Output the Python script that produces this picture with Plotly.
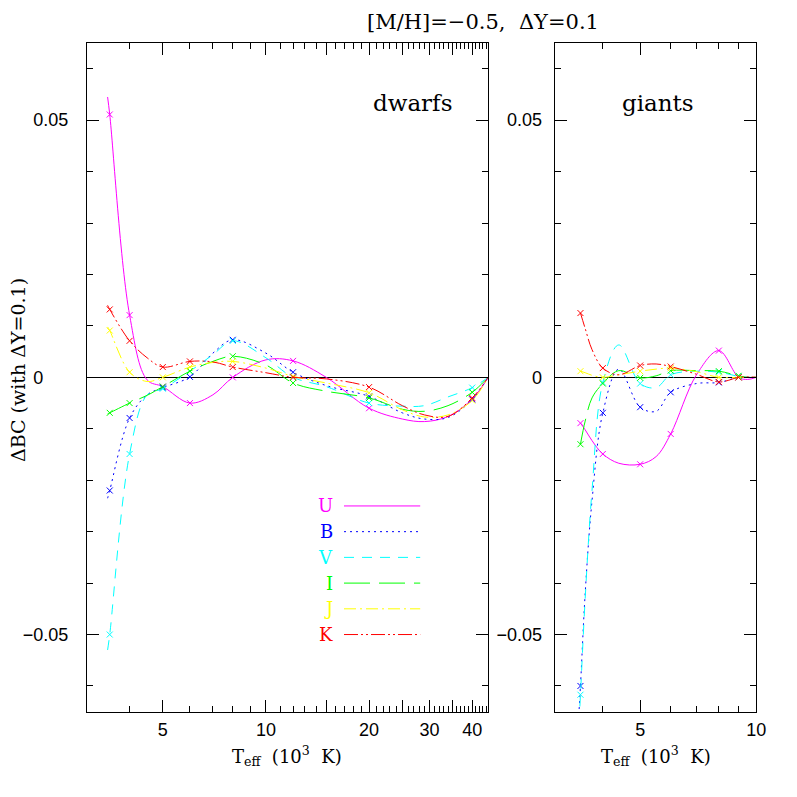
import numpy as np
import plotly.graph_objects as go

bands = ["U", "B", "V", "I", "J", "K"]
band_colors = ["#ff00ff", "#0000ff", "#00ffff", "#00ff00", "#ffff00", "#ff0000"]
band_dash = ["solid", "2px,4px", "10px,8px", "26px,9px", "12px,4px,2px,4px",
             "14px,3px,2px,3px,2px,3px"]

# dwarfs: Teff in 10^3 K
dwarf_teff = [3.45, 3.5, 4, 4.5, 5, 6, 7, 8, 10, 12, 15, 20, 25, 29, 34, 40, 44.5]
dwarf_marked = [3.5, 4, 5, 6, 8, 12, 20, 40]
dwarf_U = [0.0545, 0.0511, 0.0121, -0.0005, -0.0018, -0.0050, -0.0034, 0.0000, 0.0034,
           0.0032, 0.0000, -0.0060, -0.0081, -0.0086, -0.0076, -0.0042, 0.0]
dwarf_B = [-0.0235, -0.0220, -0.0079, -0.0034, -0.0020, 0.0001, 0.0047, 0.0073, 0.0047,
           0.0010, -0.0016, -0.0037, -0.0069, -0.0081, -0.0078, -0.0043, 0.0]
dwarf_V = [-0.0530, -0.0500, -0.0149, -0.0034, -0.0022, 0.0012, 0.0044, 0.0071, 0.0038,
           0.0000, -0.0018, -0.0050, -0.0056, -0.0055, -0.0038, -0.0020, 0.0]
dwarf_I = [-0.0071, -0.0069, -0.0050, -0.0035, -0.0018, 0.0012, 0.0031, 0.0041, 0.0024,
           -0.0011, -0.0027, -0.0040, -0.0062, -0.0066, -0.0055, -0.0029, 0.0]
dwarf_J = [0.0098, 0.0091, 0.0010, -0.0008, 0.0000, 0.0020, 0.0029, 0.0031, 0.0018,
           0.0002, -0.0011, -0.0030, -0.0063, -0.0077, -0.0073, -0.0045, 0.0]
dwarf_K = [0.0140, 0.0132, 0.0071, 0.0038, 0.0020, 0.0031, 0.0030, 0.0020, 0.0009,
           0.0000, -0.0003, -0.0019, -0.0055, -0.0073, -0.0076, -0.0040, 0.0]

# giants
giant_teff = [3.45, 3.5, 3.6, 3.75, 4, 4.4, 5, 5.5, 6, 7, 8, 9, 9.5, 10]
giant_marked = [3.5, 4, 5, 6, 8, 9]
giant_U = [None, -0.0089, -0.0102, -0.0123, -0.0149, -0.0167, -0.0169, -0.0154, -0.0110,
           0.0005, 0.0052, 0.0000, -0.0004, 0.0]
giant_B = [-0.0680, -0.0600, -0.0420, -0.0240, -0.0069, 0.0016, -0.0058, -0.0066, -0.0029,
           -0.0012, -0.0010, 0.0000, 0.0, 0.0]
giant_V = [-0.0710, -0.0617, -0.0430, -0.0220, -0.0010, 0.0063, -0.0012, -0.0020, 0.0005,
           0.0012, 0.0010, 0.0002, 0.0, 0.0]
giant_I = [None, -0.0130, -0.0085, -0.0040, -0.0012, 0.0013, -0.0001, 0.0003, 0.0013,
           0.0013, 0.0012, 0.0003, 0.0, 0.0]
giant_J = [None, 0.0012, 0.0009, 0.0004, 0.0000, 0.0005, 0.0012, 0.0016, 0.0018,
           0.0011, 0.0000, 0.0000, 0.0, 0.0]
giant_K = [None, 0.0125, 0.0095, 0.0054, 0.0018, 0.0005, 0.0023, 0.0026, 0.0021,
           0.0006, -0.0009, 0.0000, 0.0001, 0.0]

dwarf_series = [dwarf_U, dwarf_B, dwarf_V, dwarf_I, dwarf_J, dwarf_K]
giant_series = [giant_U, giant_B, giant_V, giant_I, giant_J, giant_K]

SERIF = "DejaVu Serif"
TICKFONT = dict(family="Liberation Sans", size=18, color="black")

fig = go.Figure()


def add_panel(teff, marked, series, xa, ya):
    for name, vals, col, dash in zip(bands, series, band_colors, band_dash):
        fig.add_trace(go.Scatter(
            x=teff, y=vals, mode="lines", xaxis=xa, yaxis=ya,
            line=dict(color=col, width=1, dash=dash, shape="spline", smoothing=1),
            hoverinfo="skip"))
        my = [vals[teff.index(t)] for t in marked]
        fig.add_trace(go.Scatter(
            x=marked, y=my, mode="markers", xaxis=xa, yaxis=ya, cliponaxis=True,
            marker=dict(symbol="x-thin", size=6, color=col, line=dict(width=1, color=col)),
            name=name))


add_panel(dwarf_teff, dwarf_marked, dwarf_series, "x", "y")
add_panel(giant_teff, giant_marked, giant_series, "x2", "y2")

# in-plot legend
legend_y = [-0.025, -0.030, -0.035, -0.040, -0.045, -0.050]
annotations = []
for name, ly, col, dash in zip(bands, legend_y, band_colors, band_dash):
    fig.add_trace(go.Scatter(x=[16.9, 28.2], y=[ly, ly], mode="lines", xaxis="x", yaxis="y",
                             line=dict(color=col, width=1, dash=dash), hoverinfo="skip"))
    annotations.append(dict(x=np.log10(15.9), y=ly, xref="x", yref="y", text=name,
                            showarrow=False, xanchor="right", yanchor="middle",
                            font=dict(family=SERIF, size=18, color=col)))

# the page body has an 8px margin; the snapshot also comes out a little narrower
# than the page, so stretch horizontal positions to compensate
OFF = 8
XSCALE = 0.986
W = H = 797 - 2 * OFF
px = lambda v: (v - OFF) / XSCALE / W
py = lambda v: 1 - (v - OFF) / H

annotations += [
    dict(text="[M/H]=−0.5,  ΔY=0.1", x=px(482), y=py(22), xref="paper", yref="paper",
         showarrow=False, xanchor="center", yanchor="middle",
         font=dict(family=SERIF, size=21, color="black")),
    dict(text="dwarfs", x=px(412), y=py(103), xref="paper", yref="paper",
         showarrow=False, xanchor="center", yanchor="middle",
         font=dict(family=SERIF, size=23, color="black")),
    dict(text="giants", x=px(657), y=py(103), xref="paper", yref="paper",
         showarrow=False, xanchor="center", yanchor="middle",
         font=dict(family=SERIF, size=23, color="black")),
    dict(text="ΔBC (with ΔY=0.1)", x=px(18), y=py(370), xref="paper", yref="paper",
         showarrow=False, textangle=-90, xanchor="center", yanchor="middle",
         font=dict(family=SERIF, size=19, color="black")),
    dict(text="T<sub>eff</sub>  (10<sup>3</sup>  K)", x=px(287), y=py(756), xref="paper",
         yref="paper", showarrow=False, xanchor="center", yanchor="middle",
         font=dict(family=SERIF, size=18, color="black")),
    dict(text="T<sub>eff</sub>  (10<sup>3</sup>  K)", x=px(655), y=py(756), xref="paper",
         yref="paper", showarrow=False, xanchor="center", yanchor="middle",
         font=dict(family=SERIF, size=18, color="black")),
]

axis_common = dict(ticks="inside", ticklen=12, tickwidth=1, tickcolor="black",
                   mirror="allticks", showline=True, linecolor="black", linewidth=1,
                   showgrid=False, tickfont=TICKFONT)

x1_minor = [t for t in range(3, 45) if t % 5 != 0]
x2_minor = [3, 4, 6, 7, 8, 9]
y_minor = [-0.06, -0.04, -0.03, -0.02, -0.01, 0.01, 0.02, 0.03, 0.04, 0.06]
minor = dict(ticks="inside", ticklen=6, tickwidth=1, tickcolor="black", showgrid=False)

yaxis_common = dict(axis_common, range=[-0.065, 0.065], domain=[py(711.7), py(43)],
                    tickvals=[-0.05, 0, 0.05],
                    zeroline=True, zerolinecolor="black", zerolinewidth=1,
                    minor=dict(minor, tickvals=y_minor))

fig.update_layout(
    width=W, height=H, margin=dict(l=0, r=0, t=0, b=0),
    paper_bgcolor="white", plot_bgcolor="white", showlegend=False,
    xaxis=dict(axis_common, type="log", range=[np.log10(3), np.log10(44.5)],
               domain=[px(86.7), px(487.5)], anchor="y", zeroline=False,
               tickvals=[5, 10, 15, 20, 25, 30, 35, 40],
               ticktext=["5", "10", "", "20", "", "30", "", "40"],
               ticklabelstandoff=2, minor=dict(minor, tickvals=x1_minor)),
    xaxis2=dict(axis_common, type="log", range=[np.log10(3), 1],
                domain=[px(554), px(755.3)], anchor="y2", zeroline=False,
                tickvals=[5, 10], ticktext=["5", "10"],
                ticklabelstandoff=2, minor=dict(minor, tickvals=x2_minor)),
    yaxis=dict(yaxis_common, anchor="x", ticklabelstandoff=14,
               ticktext=["−0.05", "0" + "\u00a0" * 5, "0.05"]),
    yaxis2=dict(yaxis_common, anchor="x2", ticklabelstandoff=8,
                ticktext=["−0.05", "0", "0.05"]),
    annotations=annotations,
)

fig.write_html("out.html")
